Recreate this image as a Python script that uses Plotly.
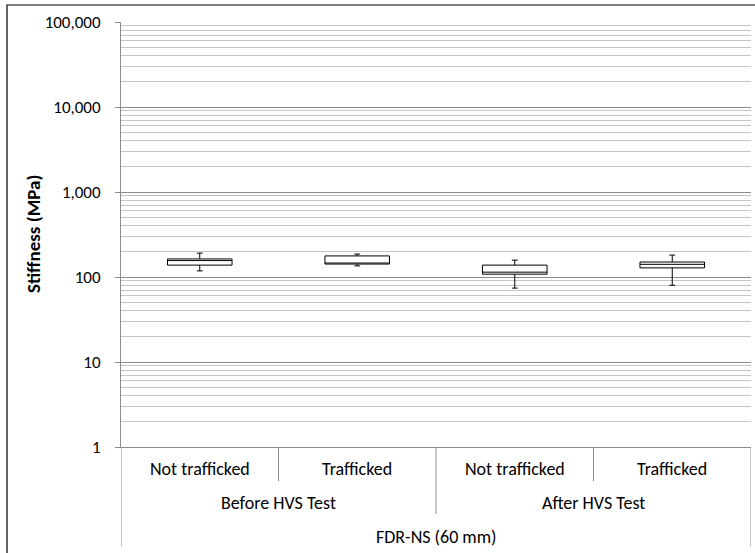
import plotly.graph_objects as go

# ---- data ----
periods = ["Before HVS Test", "Before HVS Test", "After HVS Test", "After HVS Test"]
conditions = ["Not trafficked", "Trafficked", "Not trafficked", "Trafficked"]
group_label = "FDR-NS (60 mm)"
upper_whisker = [191, 186, 158, 181]
q3_values = [163, 177, 138, 150]
median_values = [156, 146, 114, 141]
q1_values = [138, 142, 108, 128]
lower_whisker = [118, 135, 74, 80]
y_tick_values = [1, 10, 100, 1000, 10000, 100000]
y_tick_labels = ["1", "10", "100", "1,000", "10,000", "100,000"]
y_title = "Stiffness (MPa)"

FONT = "Carlito, Calibri, Liberation Sans"
cats = [f"{p} | {c}" for p, c in zip(periods, conditions)]

fig = go.Figure()
fig.add_trace(go.Box(
    x=cats,
    q1=q1_values, median=median_values, q3=q3_values,
    lowerfence=lower_whisker, upperfence=upper_whisker,
    width=0.41, whiskerwidth=0.09,
    fillcolor="white",
    line=dict(color="black", width=1),
    boxpoints=False, hoverinfo="skip", showlegend=False,
))

# PIXEL -> paper helpers (plot area 121..751 x 22..447)
L, R, T, B = 121, 751, 22, 447
def py(pix):
    return (B - pix) / (B - T)
def px(pix):
    return (pix - L) / (R - L)

shapes = []
annotations = []
# category dividers below axis
div_bottoms = {-0.5: 547, 0.5: 481, 1.5: 514, 2.5: 481, 3.5: 547}
for xv, yb in div_bottoms.items():
    shapes.append(dict(type="line", xref="x", yref="paper", x0=xv, x1=xv,
                       y0=0, y1=py(yb), line=dict(color="#8c8c8c", width=1)))
LBL = 18
# level 1 labels
for i, c in enumerate(conditions):
    annotations.append(dict(x=i, xref="x", y=py(469), yref="paper", text=c,
                            xanchor="center", yanchor="middle",
                            showarrow=False, font=dict(family=FONT, size=LBL, color="black")))
# level 2 labels
seen = []
for i, p in enumerate(periods):
    if p in seen:
        continue
    idx = [j for j, q in enumerate(periods) if q == p]
    seen.append(p)
    annotations.append(dict(x=sum(idx) / len(idx), xref="x", y=py(503), yref="paper", text=p,
                            xanchor="center", yanchor="middle",
                            showarrow=False, font=dict(family=FONT, size=LBL, color="black")))
# level 3 label
annotations.append(dict(x=(len(cats) - 1) / 2, xref="x", y=py(537), yref="paper", text=group_label,
                        xanchor="center", yanchor="middle",
                        showarrow=False, font=dict(family=FONT, size=LBL, color="black")))
# y title
annotations.append(dict(x=px(34), xref="paper", y=py(234), yref="paper", text=f"<b>{y_title}</b>",
                        xanchor="center", yanchor="middle",
                        textangle=-90, showarrow=False, font=dict(family=FONT, size=19, color="black")))
# chart border
shapes.append(dict(type="rect", xref="paper", yref="paper", x0=px(7), x1=px(762),
                   y0=py(560), y1=py(5), line=dict(color="black", width=1.2), layer="above"))

fig.update_layout(
    width=755, height=553,
    margin=dict(l=L, r=755 - R, t=T, b=553 - B),
    paper_bgcolor="white", plot_bgcolor="white",
    font=dict(family=FONT, size=17, color="black"),
    shapes=shapes, annotations=annotations,
    xaxis=dict(type="category", categoryarray=cats, range=[-0.5, 3.5],
               showticklabels=False, ticks="", showgrid=False, zeroline=False,
               showline=True, linecolor="#8c8c8c", linewidth=1, fixedrange=True),
    yaxis=dict(type="log", range=[0, 5], tickvals=y_tick_values, ticktext=y_tick_labels,
               ticks="outside", ticklen=5, tickcolor="#8c8c8c", ticklabelstandoff=11,
               showline=True, linecolor="#8c8c8c", linewidth=1,
               showgrid=True, gridcolor="#8c8c8c", gridwidth=1, zeroline=False,
               minor=dict(dtick="D1", showgrid=True, gridcolor="#c4c4c4", gridwidth=1, ticks=""),
               tickfont=dict(family=FONT, size=17, color="black"), fixedrange=True),
)

fig.write_html("out.html")
